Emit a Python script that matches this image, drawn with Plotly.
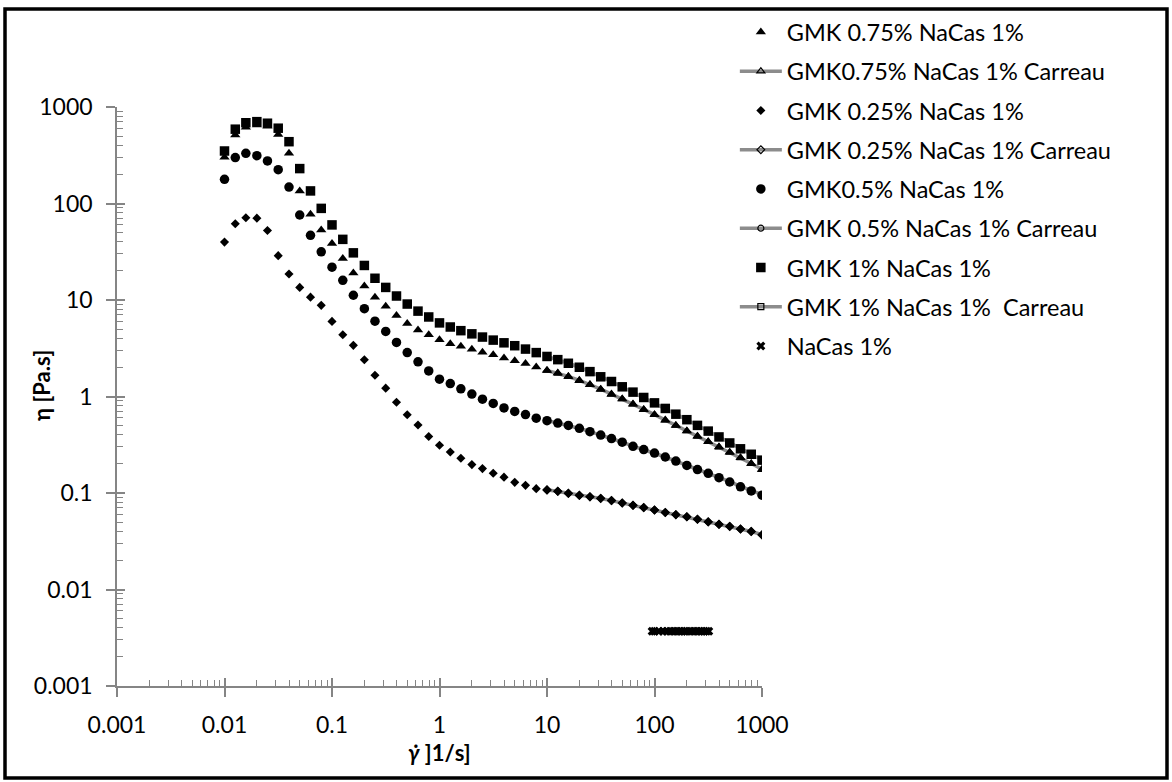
import plotly.graph_objects as go

# ---------------- data ----------------
shear_rate = [0.01, 0.0126, 0.0158, 0.02, 0.0251, 0.0316, 0.0398, 0.0501, 0.0631, 0.0794,
              0.1, 0.126, 0.158, 0.2, 0.251, 0.316, 0.398, 0.501, 0.631, 0.794,
              1, 1.26, 1.58, 2, 2.51, 3.16, 3.98, 5.01, 6.31, 7.94,
              10, 12.6, 15.8, 20, 25.1, 31.6, 39.8, 50.1, 63.1, 79.4,
              100, 126, 158, 200, 251, 316, 398, 501, 631, 794, 1000]

gmk075 = [302, 513, 617, 650, 632, 519, 331, 135, 77.6, 53,
          38.5, 26.9, 19.1, 14.0, 10.7, 8.61, 6.92, 5.71, 4.90, 4.37,
          3.88, 3.52, 3.31, 3.08, 2.87, 2.70, 2.51, 2.35, 2.20, 2.02,
          1.86, 1.75, 1.61, 1.46, 1.32, 1.18, 1.05, 0.94, 0.83, 0.731,
          0.647, 0.568, 0.50, 0.439, 0.387, 0.34, 0.299, 0.264, 0.232, 0.201, 0.174]

gmk025 = [39.8, 61.7, 71.3, 70.5, 52.5, 28.8, 18.6, 13.5, 10.7, 8.8,
          6.0, 4.37, 3.39, 2.40, 1.66, 1.22, 0.871, 0.646, 0.507, 0.385,
          0.313, 0.266, 0.229, 0.197, 0.179, 0.160, 0.146, 0.129, 0.120, 0.111,
          0.107, 0.104, 0.099, 0.0944, 0.0912, 0.0881, 0.0834, 0.0787, 0.0745, 0.0705,
          0.0667, 0.0627, 0.0597, 0.0568, 0.0535, 0.0501, 0.0473, 0.0452, 0.0423, 0.040, 0.0367]

gmk05 = [178, 299, 331, 313, 276, 224, 148, 76, 46.8, 31.6,
         21.9, 16.0, 11.2, 8.13, 6.03, 4.73, 3.63, 2.85, 2.29, 1.84,
         1.51, 1.36, 1.20, 1.06, 0.938, 0.847, 0.762, 0.70, 0.649, 0.596,
         0.562, 0.53, 0.501, 0.468, 0.432, 0.398, 0.366, 0.336, 0.305, 0.282,
         0.259, 0.236, 0.214, 0.193, 0.175, 0.16, 0.144, 0.13, 0.116, 0.105, 0.095]

gmk1 = [350, 589, 687, 705, 679, 603, 437, 230, 135, 89,
        60, 42.5, 30.8, 22.8, 16.8, 13.5, 11.0, 9.08, 7.67, 6.67,
        5.79, 5.25, 4.81, 4.46, 4.13, 3.84, 3.60, 3.36, 3.10, 2.85,
        2.60, 2.41, 2.21, 2.01, 1.81, 1.60, 1.43, 1.26, 1.11, 0.977,
        0.859, 0.752, 0.656, 0.575, 0.502, 0.438, 0.381, 0.330, 0.287, 0.252, 0.219]

# Carreau fits (drawn over 10 - 1000 1/s)
carreau_x = [10, 12.6, 15.8, 20, 25.1, 31.6, 39.8, 50.1, 63.1, 79.4,
             100, 126, 158, 200, 251, 316, 398, 501, 631, 794, 1000]
carreau075 = [1.86, 1.74, 1.61, 1.47, 1.33, 1.19, 1.06, 0.945, 0.835, 0.735,
              0.648, 0.570, 0.501, 0.440, 0.387, 0.340, 0.299, 0.263, 0.231, 0.202, 0.176]
carreau025 = [0.108, 0.104, 0.0995, 0.0948, 0.0912, 0.0878, 0.0834, 0.0789, 0.0746, 0.0706,
              0.0667, 0.0629, 0.0596, 0.0566, 0.0535, 0.0503, 0.0474, 0.0450, 0.0424, 0.0399, 0.0370]
carreau05 = [0.565, 0.531, 0.500, 0.467, 0.432, 0.399, 0.366, 0.336, 0.306, 0.282,
             0.258, 0.236, 0.214, 0.194, 0.176, 0.160, 0.145, 0.131, 0.117, 0.106, 0.096]
carreau1 = [2.60, 2.41, 2.21, 2.01, 1.81, 1.61, 1.43, 1.26, 1.11, 0.978,
            0.860, 0.752, 0.657, 0.575, 0.502, 0.438, 0.382, 0.331, 0.288, 0.252, 0.220]

nacas_x = [95, 100, 110, 120, 130, 140, 150, 160, 170, 180, 190, 200,
           215, 230, 245, 260, 275, 290, 305, 320]
nacas_y = [0.0037, 0.0037, 0.0037, 0.0037, 0.0037, 0.0037, 0.0037, 0.0037, 0.0037, 0.0037,
           0.0037, 0.0037, 0.0037, 0.0037, 0.0037, 0.0037, 0.0037, 0.0037, 0.0037, 0.0037]

tick_vals = [0.001, 0.01, 0.1, 1, 10, 100, 1000]
tick_text = ["0.001", "0.01", "0.1", "1", "10", "100", "1000"]

names = ["GMK 0.75% NaCas 1%", "GMK0.75% NaCas 1% Carreau",
         "GMK 0.25% NaCas 1%", "GMK 0.25% NaCas 1% Carreau",
         "GMK0.5% NaCas 1%", "GMK 0.5% NaCas 1% Carreau",
         "GMK 1% NaCas 1%", "GMK 1% NaCas 1%  Carreau",
         "NaCas 1%"]

# ---------------- figure ----------------
FONT = "Lato"
GRAY = "#858585"
LINEGRAY = "#8c8c8c"
fig = go.Figure()

# Carreau lines first (underneath)
carreau_sets = [(carreau075, "triangle-up-open", 1, 7),
                (carreau025, "diamond-open", 3, 6),
                (carreau05, "circle-open", 5, 6),
                (carreau1, "square-open", 7, 6)]
for yv, sym, idx, sz in carreau_sets:
    fig.add_trace(go.Scatter(
        x=carreau_x, y=yv, mode="lines+markers", name=names[idx],
        line=dict(color=LINEGRAY, width=3.5),
        marker=dict(symbol=sym, size=sz, color="black", line=dict(color="black", width=1.2)),
        legendgroup=names[idx], legendrank=idx + 1))

data_sets = [(gmk075, "triangle-up", 0, 9),
             (gmk025, "diamond", 2, 7),
             (gmk05, "circle", 4, 9.5),
             (gmk1, "square", 6, 9.5)]
for yv, sym, idx, sz in data_sets:
    fig.add_trace(go.Scatter(
        x=shear_rate, y=yv, mode="markers", name=names[idx],
        marker=dict(symbol=sym, size=sz, color="black", line=dict(width=0)),
        legendgroup=names[idx], legendrank=idx + 1))

fig.add_trace(go.Scatter(
    x=nacas_x, y=nacas_y, mode="markers", name=names[8],
    marker=dict(symbol="x", size=8, color="black", line=dict(width=0)),
    legendgroup=names[8], legendrank=9))

# minor tick positions (2..9 per decade)
minor_vals = [m * 10 ** e for e in range(-3, 3) for m in range(2, 10)]

axis_common = dict(type="log", range=[-3, 3], showgrid=False, zeroline=False,
                   showline=True, linecolor=GRAY, linewidth=1.6,
                   ticks="outside", ticklen=9, tickwidth=1.6, tickcolor=GRAY,
                   tickmode="array", tickvals=tick_vals, ticktext=tick_text,
                   tickfont=dict(family=FONT, size=23, color="black"),
                   minor=dict(ticks="inside", ticklen=6, tickwidth=1.3, tickcolor=GRAY,
                              tickmode="array", tickvals=minor_vals),
                   ticklabelstandoff=9)

fig.update_layout(
    width=1172, height=782,
    margin=dict(l=117, r=410, t=107, b=96, autoexpand=False),
    paper_bgcolor="white", plot_bgcolor="white",
    font=dict(family=FONT, color="black"),
    xaxis=dict(**axis_common),
    yaxis=dict(**axis_common),
    # inner halves of the crossing major ticks
    xaxis2=dict(type="log", range=[-3, 3], overlaying="x", anchor="y", side="bottom",
                showgrid=False, zeroline=False, showline=False, showticklabels=False,
                ticks="inside", ticklen=8, tickwidth=1.6, tickcolor=GRAY,
                tickmode="array", tickvals=tick_vals),
    yaxis2=dict(type="log", range=[-3, 3], overlaying="y", anchor="x", side="left",
                showgrid=False, zeroline=False, showline=False, showticklabels=False,
                ticks="inside", ticklen=8, tickwidth=1.6, tickcolor=GRAY,
                tickmode="array", tickvals=tick_vals),
    showlegend=True,
    legend=dict(xref="container", yref="container", x=0.627, y=0.987,
                xanchor="left", yanchor="top", traceorder="grouped",
                tracegroupgap=5.7, itemwidth=42, bgcolor="rgba(0,0,0,0)",
                font=dict(family=FONT, size=23.5, color="black")),
)

# dummy trace to make overlay axes render
fig.add_trace(go.Scatter(x=[1], y=[1], xaxis="x2", yaxis="y2", mode="markers",
                         marker=dict(opacity=0), showlegend=False, hoverinfo="skip"))

fig.add_annotation(text="<b>η [Pa.s]</b>", xref="paper", yref="paper",
                   x=(41 - 117) / 645, y=(686 - 385) / 579, textangle=-90, showarrow=False,
                   xanchor="center", yanchor="middle",
                   font=dict(family=FONT, size=22, color="black"))
fig.add_annotation(text="<b><i>γ̇</i> ]1/s]</b>", xref="paper", yref="paper",
                   x=0.5, y=(686 - 752) / 579, showarrow=False,
                   xanchor="center", yanchor="middle",
                   font=dict(family=FONT, size=22, color="black"))

# outer frame
fig.add_shape(type="rect", xref="paper", yref="paper",
              x0=(5 - 117) / 645, x1=(1167 - 117) / 645,
              y0=(686 - 778) / 579, y1=(686 - 9) / 579,
              line=dict(color="black", width=3.5), fillcolor="rgba(0,0,0,0)")

fig.write_html("out.html")
